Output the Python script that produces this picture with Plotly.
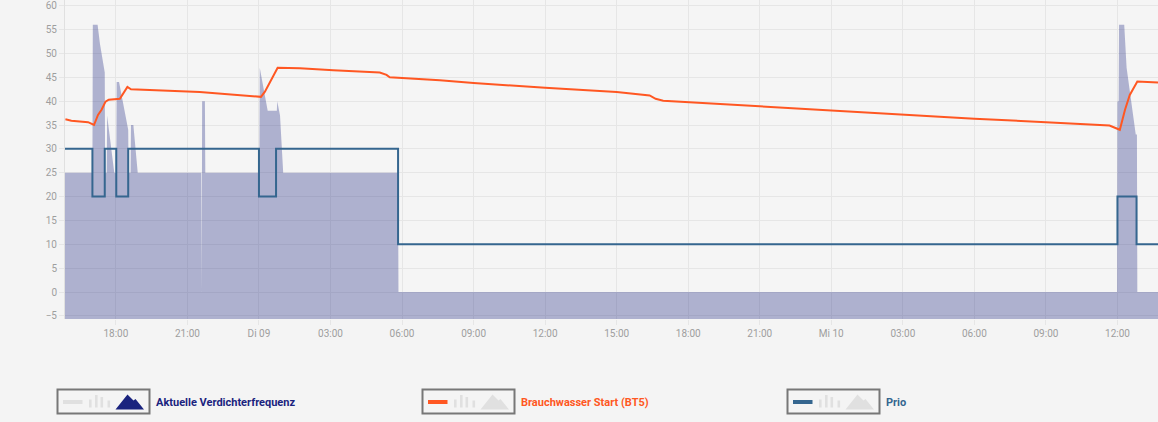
import plotly.graph_objects as go

# Aktuelle Verdichterfrequenz (area)
FREQ_TIME = [
    "2024-01-08 15:52", "2024-01-08 17:01", "2024-01-08 17:02", "2024-01-08 17:14",
    "2024-01-08 17:20", "2024-01-08 17:32", "2024-01-08 17:33", "2024-01-08 17:37",
    "2024-01-08 17:38", "2024-01-08 17:56", "2024-01-08 18:01", "2024-01-08 18:02",
    "2024-01-08 18:08", "2024-01-08 18:31", "2024-01-08 18:32", "2024-01-08 18:37",
    "2024-01-08 18:38", "2024-01-08 18:44", "2024-01-08 18:55", "2024-01-08 21:35",
    "2024-01-08 21:36", "2024-01-08 21:37", "2024-01-08 21:44", "2024-01-08 21:45",
    "2024-01-09 00:01", "2024-01-09 00:02", "2024-01-09 00:22", "2024-01-09 00:45",
    "2024-01-09 00:46", "2024-01-09 00:53", "2024-01-09 01:01", "2024-01-09 05:50",
    "2024-01-09 05:51", "2024-01-10 11:59", "2024-01-10 12:00", "2024-01-10 12:03",
    "2024-01-10 12:04", "2024-01-10 12:17", "2024-01-10 12:23", "2024-01-10 12:46",
    "2024-01-10 12:49", "2024-01-10 12:50", "2024-01-10 13:42",
]
FREQ_VALUE = [
    25, 25, 56, 56,
    52, 46, 25, 25,
    37, 25, 25, 44,
    44, 34, 25, 25,
    35, 35, 25, 25,
    0, 40, 40, 25,
    25, 47, 38, 38,
    40, 37, 25, 25,
    0, 0, 40, 40,
    56, 56, 47, 33,
    33, 0, 0,
]

# Brauchwasser Start (BT5)
BT5_TIME = [
    "2024-01-08 15:53", "2024-01-08 16:08", "2024-01-08 16:50", "2024-01-08 17:05",
    "2024-01-08 17:15", "2024-01-08 17:24", "2024-01-08 17:34", "2024-01-08 17:42",
    "2024-01-08 18:10", "2024-01-08 18:21", "2024-01-08 18:29", "2024-01-08 18:38",
    "2024-01-08 21:31", "2024-01-09 00:05", "2024-01-09 00:15", "2024-01-09 00:47",
    "2024-01-09 01:43", "2024-01-09 03:07", "2024-01-09 05:04", "2024-01-09 05:21",
    "2024-01-09 05:29", "2024-01-09 07:35", "2024-01-09 09:00", "2024-01-09 12:00",
    "2024-01-09 15:00", "2024-01-09 16:23", "2024-01-09 16:31", "2024-01-09 16:38",
    "2024-01-09 16:57", "2024-01-09 18:00", "2024-01-09 21:00", "2024-01-10 00:00",
    "2024-01-10 03:00", "2024-01-10 06:00", "2024-01-10 09:00", "2024-01-10 11:40",
    "2024-01-10 12:06", "2024-01-10 12:19", "2024-01-10 12:31", "2024-01-10 12:50",
    "2024-01-10 13:42",
]
BT5_VALUE = [
    36.2, 35.9, 35.6, 35.0,
    37.1, 38.2, 39.9, 40.3,
    40.5, 42.0, 43.0, 42.5,
    41.9, 40.9, 42.0, 47.0,
    46.9, 46.5, 46.0, 45.5,
    45.0, 44.4, 43.8, 42.8,
    41.9, 41.2, 40.9, 40.5,
    40.1, 39.8, 38.8, 38.1,
    37.2, 36.3, 35.6, 34.9,
    34.0, 38.2, 41.3, 44.1,
    43.9,
]

# Prio (step)
PRIO_TIME = [
    "2024-01-08 15:52", "2024-01-08 17:01", "2024-01-08 17:32", "2024-01-08 18:01",
    "2024-01-08 18:31", "2024-01-09 00:00", "2024-01-09 00:43", "2024-01-09 05:50",
    "2024-01-10 12:00", "2024-01-10 12:48", "2024-01-10 13:42",
]
PRIO_VALUE = [30, 20, 30, 20, 30, 20, 30, 10, 20, 10, 10]

TICK_VALS = [
    "2024-01-08 18:00", "2024-01-08 21:00", "2024-01-09 00:00", "2024-01-09 03:00",
    "2024-01-09 06:00", "2024-01-09 09:00", "2024-01-09 12:00", "2024-01-09 15:00",
    "2024-01-09 18:00", "2024-01-09 21:00", "2024-01-10 00:00", "2024-01-10 03:00",
    "2024-01-10 06:00", "2024-01-10 09:00", "2024-01-10 12:00",
]
TICK_TEXT = [
    "18:00", "21:00", "Di 09", "03:00", "06:00", "09:00", "12:00", "15:00",
    "18:00", "21:00", "Mi 10", "03:00", "06:00", "09:00", "12:00",
]

X_RANGE = ["2024-01-08 15:52", "2024-01-10 13:42"]
Y_RANGE = [-5.66, 61.2]

LEGEND_NAMES = ["Aktuelle Verdichterfrequenz", "Brauchwasser Start (BT5)", "Prio"]
LEGEND_COLORS = ["#1a237e", "#ff5722", "#35668f"]

AREA_COLOR = "rgba(26,35,126,0.32)"
GRID = "#e6e6e6"
ICON_GREY = "#e0e0e0"

# plot area in pixels (for placing the custom legend)
PL, PT, PW, PH = 65, 0, 1093, 319


def px_x(x):
    return (x - PL) / PW


def px_y(y):
    return (PT + PH - y) / PH


fig = go.Figure()

# invisible baseline so the area reaches the bottom of the plot
fig.add_scatter(x=X_RANGE, y=[Y_RANGE[0] - 5] * 2, mode="lines",
                line=dict(width=0), hoverinfo="skip", showlegend=False)
fig.add_scatter(x=FREQ_TIME, y=FREQ_VALUE, mode="lines", fill="tonexty",
                fillcolor=AREA_COLOR, line=dict(width=0, color=AREA_COLOR),
                name=LEGEND_NAMES[0], showlegend=False)
fig.add_scatter(x=BT5_TIME, y=BT5_VALUE, mode="lines",
                line=dict(color=LEGEND_COLORS[1], width=2),
                name=LEGEND_NAMES[1], showlegend=False)
fig.add_scatter(x=PRIO_TIME, y=PRIO_VALUE, mode="lines", line_shape="hv",
                line=dict(color=LEGEND_COLORS[2], width=2),
                name=LEGEND_NAMES[2], showlegend=False)

# custom legend boxes
shapes = []
annotations = []
box_lefts = [57.5, 422.5, 787.5]
for i, left in enumerate(box_lefts):
    shapes.append(dict(type="rect", xref="paper", yref="paper",
                       x0=px_x(left), x1=px_x(left + 92), y0=px_y(413.5), y1=px_y(389.5),
                       line=dict(color="#777777", width=2), fillcolor="rgba(0,0,0,0)"))
    swatch = LEGEND_COLORS[i] if i > 0 else ICON_GREY
    shapes.append(dict(type="line", xref="paper", yref="paper",
                       x0=px_x(left + 5.5), x1=px_x(left + 25), y0=px_y(402), y1=px_y(402),
                       line=dict(color=swatch, width=4)))
    for bx, top in [(31.5, 399.5), (37.5, 395), (43, 397), (50, 400.5)]:
        shapes.append(dict(type="rect", xref="paper", yref="paper",
                           x0=px_x(left + bx), x1=px_x(left + bx + 2.6),
                           y0=px_y(407.5), y1=px_y(top),
                           line=dict(width=0), fillcolor=ICON_GREY))
    mountain = LEGEND_COLORS[0] if i == 0 else ICON_GREY
    pts = [(58, 409.5), (70, 394.5), (76, 400.5), (78, 399), (86.5, 409.5)]
    path = "M " + " L ".join(f"{px_x(left + a):.5f},{px_y(b):.5f}" for a, b in pts) + " Z"
    shapes.append(dict(type="path", xref="paper", yref="paper", path=path,
                       line=dict(width=0), fillcolor=mountain))
    annotations.append(dict(xref="paper", yref="paper", x=px_x(left + 96.5), y=px_y(402),
                            xanchor="left", yanchor="middle", showarrow=False,
                            text=LEGEND_NAMES[i],
                            font=dict(family="Roboto", size=11, color=LEGEND_COLORS[i], weight="bold")))

fig.update_layout(
    width=1158, height=422,
    margin=dict(l=PL, r=0, t=PT, b=422 - PH),
    paper_bgcolor="#f4f4f4", plot_bgcolor="#f5f5f5",
    font=dict(family="Roboto", size=10, color="#9e9e9e"),
    showlegend=False,
    shapes=shapes, annotations=annotations,
    xaxis=dict(range=X_RANGE, tickvals=TICK_VALS, ticktext=TICK_TEXT,
               showgrid=True, gridcolor=GRID, gridwidth=1,
               ticks="outside", ticklen=5, tickcolor=GRID,
               zeroline=False, showline=False),
    yaxis=dict(range=Y_RANGE, tick0=-5, dtick=5,
               showgrid=True, gridcolor=GRID, gridwidth=1,
               ticks="outside", ticklen=5, tickcolor=GRID,
               zeroline=False, showline=True, linecolor="#e0e0e0"),
)

# drop the default page margin so the figure sits at the window origin
fig.write_html("out.html", config={"displayModeBar": False},
               post_script="document.body.style.margin='0';")
